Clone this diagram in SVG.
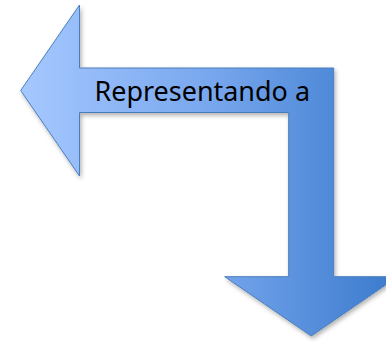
<svg xmlns="http://www.w3.org/2000/svg" width="386" height="342" viewBox="0 0 386 342">
  <defs>
    <linearGradient id="g" gradientUnits="userSpaceOnUse" x1="20" y1="0" x2="398" y2="0">
      <stop offset="0" stop-color="#a6c8ff"/>
      <stop offset="0.5" stop-color="#78a7ee"/>
      <stop offset="1" stop-color="#3a7acc"/>
    </linearGradient>
    <filter id="sh" x="-10%" y="-10%" width="130%" height="130%">
      <feDropShadow dx="1.5" dy="2.5" stdDeviation="2" flood-color="#000" flood-opacity="0.3"/>
    </filter>
  </defs>
  <style>
    .arrow { fill: url(#g); stroke: #4a7ebb; stroke-width: 1; stroke-linejoin: miter; }
    .lbl { font-family: "Noto Sans", "Open Sans", sans-serif; font-size: 26.5px; fill: #000; }
  </style>
  <g id="bent-arrow">
    <path class="arrow" filter="url(#sh)" d="M20.7,90.5 L79.5,5 L79.5,68 L333.7,68 L333.7,276.7 L397.7,276.7 L311.2,336 L224.7,276.7 L288.7,276.7 L288.7,112.5 L79.5,112.5 L79.5,176 Z"/>
    <text class="lbl" x="94.5" y="100.5" textLength="215.5" lengthAdjust="spacingAndGlyphs">Representando a</text>
  </g>
</svg>
